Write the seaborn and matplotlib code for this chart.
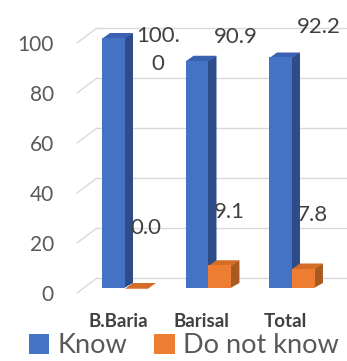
import pandas as pd
import seaborn as sns
import matplotlib.pyplot as plt
from matplotlib.patches import Polygon
import matplotlib.transforms as mtransforms

# Data
districts = ['B.Baria', 'Barisal', 'Total']
know = [100.0, 90.9, 92.2]
dont_know = [0.0, 9.1, 7.8]
know_labels = ['100.\n0', '90.9', '92.2']
dont_know_labels = ['0.0', '9.1', '7.8']
yticks = [0, 20, 40, 60, 80, 100]

df = pd.DataFrame({
    'District': districts * 2,
    'Percent': know + dont_know,
    'Response': ['Know'] * 3 + ['Do not know'] * 3,
})

front = {'Know': '#4472C4', 'Do not know': '#ED7D31'}
side = {'Know': '#2E4C8A', 'Do not know': '#A85A20'}
top = {'Know': '#3A62B0', 'Do not know': '#D46D28'}
txt = '#595959'
dark_txt = '#404040'
grid_col = '#D9D9D9'

sns.set_theme(style='white')
plt.rcParams['font.family'] = ['Lato', 'DejaVu Sans']

fig = plt.figure(figsize=(3.47, 3.61), dpi=100)
ax = fig.add_axes([76 / 347, 73 / 361, 271 / 347, 250 / 361])

sns.barplot(data=df, x='District', y='Percent', hue='Response',
            palette=front, width=0.55, dodge=True, ax=ax,
            saturation=1, legend=True, zorder=4, linewidth=0)
ax.set_xlim(-0.587, 2.659)
ax.set_ylim(0, 100)

# pixels per data unit
px_x = ax.transData.transform((1, 0))[0] - ax.transData.transform((0, 0))[0]
px_y = ax.transData.transform((0, 1))[1] - ax.transData.transform((0, 0))[1]

# 3d-ish depth of the bars (drawn behind the front face, slight overlap to avoid seams)
ddx, ddy = 8 / px_x, 5 / px_y
ov = 1.0 / px_x
resp_order = ['Know', 'Do not know']
bars = ax.patches[:6]
for i, p in enumerate(bars):
    r = resp_order[i // 3]
    x0, w, h = p.get_x(), p.get_width(), p.get_height()
    ax.add_patch(Polygon([(x0 + w - ov, 0), (x0 + w + ddx, ddy), (x0 + w + ddx, h + ddy), (x0 + w - ov, h)],
                         closed=True, fc=side[r], ec='none', zorder=3, clip_on=False))
    ax.add_patch(Polygon([(x0, h - 0.3), (x0 + ddx, h + ddy), (x0 + w + ddx, h + ddy), (x0 + w, h - 0.3)],
                         closed=True, fc=top[r], ec='none', zorder=3.5, clip_on=False))

# gridlines on the back wall with a slanted side wall piece
gx0 = ax.get_xlim()[0] + 1 / px_x
gx1 = ax.get_xlim()[0] + 21 / px_x
for v in yticks:
    yb = v + 10 / px_y
    ax.plot([gx0, gx1], [v - 5 / px_y, yb], color=grid_col, lw=1, zorder=1, clip_on=False)
    ax.plot([gx1, ax.get_xlim()[1]], [yb, yb], color=grid_col, lw=1, zorder=1, clip_on=False)

# value labels (excel placed them near the top of the plot area)
know_label_y = [95.2, 100.4, 104.4]
for i in range(3):
    kb, db = bars[i], bars[i + 3]
    lx = db.get_x() + 5 / px_x
    ax.text(lx + (6 / px_x if i == 0 else 0), know_label_y[i], know_labels[i], ha='left', va='center',
            multialignment='center', fontsize=16, color=dark_txt, linespacing=1.5, zorder=5)
    ax.text(lx, dont_know[i] + (24 if i == 0 else 21.5), dont_know_labels[i], ha='left', va='center',
            fontsize=16, color=dark_txt, zorder=5)

for s in ax.spines.values():
    s.set_visible(False)
ax.set_xlabel('')
ax.set_ylabel('')
ax.set_yticks(yticks)
ax.set_yticklabels([str(t) for t in yticks])
ax.tick_params(axis='y', length=0, pad=16, labelsize=15, labelcolor=txt)
ax.tick_params(axis='x', length=0, pad=18, labelsize=13.5, labelcolor=dark_txt)
for lab in ax.get_xticklabels():
    lab.set_fontweight('bold')
    lab.set_transform(lab.get_transform() + mtransforms.ScaledTranslation(-7 / 100, 0, fig.dpi_scale_trans))
for lab in ax.get_yticklabels():
    lab.set_transform(lab.get_transform() + mtransforms.ScaledTranslation(0, -5 / 100, fig.dpi_scale_trans))

handles, labels = ax.get_legend_handles_labels()
ax.get_legend().remove()
fig.legend(handles, labels, loc='lower center', bbox_to_anchor=(0.53, -0.06), ncol=2,
           frameon=False, fontsize=19.5, handlelength=0.75, handleheight=0.75,
           handletextpad=0.3, columnspacing=1.0, labelcolor=txt)

fig.savefig('out.png', dpi=100)
